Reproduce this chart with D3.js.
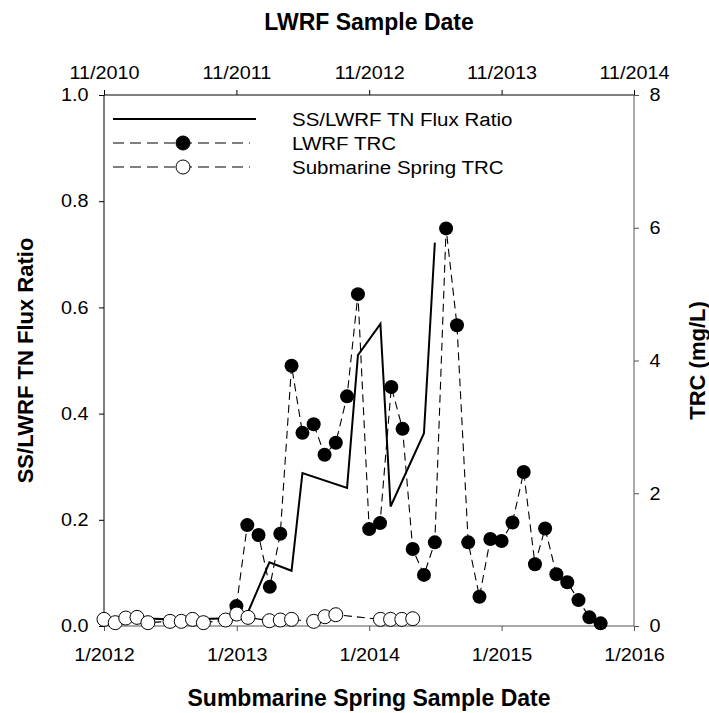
<!DOCTYPE html>
<html>
<head>
<meta charset="utf-8">
<script src="https://cdn.jsdelivr.net/npm/d3@7"></script>
<style>
  body { margin: 0; background: #fff; }
  svg { display: block; font-family: "Liberation Sans", Arial, sans-serif; }
</style>
</head>
<body>
<div id="chart"></div>
<script>
// submarine spring sample dates (bottom axis) and TRC (right axis)
const ssDates = ["2012-01","2012-02","2012-03","2012-04","2012-05","2012-07","2012-08","2012-09","2012-10","2012-12",
  "2013-01","2013-02","2013-04","2013-05","2013-06","2013-08","2013-09","2013-10",
  "2014-02","2014-03","2014-04","2014-05"];
const ssTRC = [0.10,0.05,0.12,0.13,0.05,0.07,0.07,0.10,0.05,0.09,
  0.18,0.13,0.08,0.09,0.10,0.07,0.14,0.17,
  0.10,0.10,0.10,0.11];

// LWRF sample dates (top axis) and TRC (right axis)
const lwrfDates = ["2011-11","2011-12","2012-01","2012-02","2012-03","2012-04","2012-05","2012-06","2012-07","2012-08",
  "2012-09","2012-10","2012-11","2012-12","2013-01","2013-02","2013-03","2013-04","2013-05","2013-06",
  "2013-07","2013-08","2013-09","2013-10","2013-11","2013-12","2014-01","2014-02","2014-03","2014-04",
  "2014-05","2014-06","2014-07","2014-08"];
const lwrfTRC = [0.30,1.52,1.37,0.59,1.39,3.92,2.91,3.04,2.58,2.76,
  3.46,5.00,1.46,1.55,3.60,2.97,1.16,0.77,1.26,5.99,
  4.53,1.26,0.44,1.31,1.28,1.56,2.32,0.93,1.47,0.78,
  0.66,0.39,0.13,0.04];

// SS/LWRF TN flux ratio (left axis), on submarine spring dates
const fluxDates = ["2012-02","2012-05","2012-08","2012-10","2013-01","2013-02","2013-04","2013-06","2013-07",
  "2013-11","2013-12","2014-02","2014-03","2014-06","2014-07"];
const fluxRatio = [0.012,0.014,0.012,0.013,0.015,0.026,0.12,0.104,0.288,
  0.26,0.51,0.569,0.225,0.363,0.722];

const bottomTicks = ["2012-01","2013-01","2014-01","2015-01","2016-01"];
const topTicks = ["2010-11","2011-11","2012-11","2013-11","2014-11"];
const leftTicks = [0, 0.2, 0.4, 0.6, 0.8, 1.0];
const rightTicks = [0, 2, 4, 6, 8];

const legendLabels = ["SS/LWRF TN Flux Ratio", "LWRF TRC", "Submarine Spring TRC"];

const W = 709, H = 713;
const margin = {top: 95, right: 75, bottom: 87, left: 104};
const width = W - margin.left - margin.right,
      height = H - margin.top - margin.bottom;

const parse = d3.timeParse("%Y-%m");
const fmt = d3.timeFormat("%-m/%Y");

const svg = d3.select("#chart").append("svg")
  .attr("width", W).attr("height", H);
const g = svg.append("g")
  .attr("transform", `translate(${margin.left},${margin.top})`);

const xBottom = d3.scaleTime()
  .domain([parse("2012-01"), parse("2016-01")])
  .range([0, width]);
const xTop = d3.scaleTime()
  .domain([parse("2010-11"), parse("2014-11")])
  .range([0, width]);
const yLeft = d3.scaleLinear().domain([0, 1]).range([height, 0]);
const yRight = d3.scaleLinear().domain([0, 8]).range([height, 0]);

const tickFont = "18px";
function styleTicks(sel, color) {
  sel.select(".domain").remove();
  sel.selectAll(".tick line").attr("stroke", color);
  sel.selectAll(".tick text")
    .attr("fill", "#000")
    .style("font-size", tickFont)
    .attr("transform", "scale(1.1,1)");
}

// axes
g.append("g")
  .attr("transform", `translate(0,${height})`)
  .call(d3.axisBottom(xBottom).tickValues(bottomTicks.map(parse)).tickFormat(fmt)
    .tickSize(5).tickPadding(17))
  .call(s => styleTicks(s, "#555"));

g.append("g")
  .call(d3.axisTop(xTop).tickValues(topTicks.map(parse)).tickFormat(fmt)
    .tickSize(5).tickPadding(11))
  .call(s => styleTicks(s, "#000"));

g.append("g")
  .call(d3.axisLeft(yLeft).tickValues(leftTicks).tickFormat(d3.format(".1f"))
    .tickSize(5).tickPadding(9))
  .call(s => styleTicks(s, "#000"));

g.append("g")
  .attr("transform", `translate(${width},0)`)
  .call(d3.axisRight(yRight).tickValues(rightTicks).tickFormat(d3.format("d"))
    .tickSize(5).tickPadding(9))
  .call(s => styleTicks(s, "#555"));

// frame lines
g.append("line").attr("x1", 0).attr("x2", width).attr("y1", 0).attr("y2", 0).attr("stroke", "#000");
g.append("line").attr("x1", 0).attr("x2", 0).attr("y1", 0).attr("y2", height).attr("stroke", "#000");
g.append("line").attr("x1", 0).attr("x2", width).attr("y1", height).attr("y2", height).attr("stroke", "#555");
g.append("line").attr("x1", width).attr("x2", width).attr("y1", 0).attr("y2", height).attr("stroke", "#555");

// data series
const fluxData = fluxDates.map((d, i) => ({date: parse(d), v: fluxRatio[i]}));
const lwrfData = lwrfDates.map((d, i) => ({date: parse(d), v: lwrfTRC[i]}));
const ssData = ssDates.map((d, i) => ({date: parse(d), v: ssTRC[i]}));

g.append("path")
  .datum(fluxData)
  .attr("fill", "none").attr("stroke", "#000").attr("stroke-width", 2)
  .attr("d", d3.line().x(d => xBottom(d.date)).y(d => yLeft(d.v)));

g.append("path")
  .datum(lwrfData)
  .attr("fill", "none").attr("stroke", "#000").attr("stroke-width", 1.1)
  .attr("stroke-dasharray", "8,5")
  .attr("d", d3.line().x(d => xTop(d.date)).y(d => yRight(d.v)));

g.append("path")
  .datum(ssData)
  .attr("fill", "none").attr("stroke", "#000").attr("stroke-width", 1.1)
  .attr("stroke-dasharray", "8,5")
  .attr("d", d3.line().x(d => xBottom(d.date)).y(d => yRight(d.v)));

g.append("g").selectAll("circle")
  .data(lwrfData)
  .join("circle")
  .attr("cx", d => xTop(d.date))
  .attr("cy", d => yRight(d.v))
  .attr("r", 7)
  .attr("fill", "#000");

g.append("g").selectAll("circle")
  .data(ssData)
  .join("circle")
  .attr("cx", d => xBottom(d.date))
  .attr("cy", d => yRight(d.v))
  .attr("r", 7)
  .attr("fill", "#fff")
  .attr("stroke", "#000")
  .attr("stroke-width", 1);

// legend
const legend = svg.append("g");
const legendY = [119, 143, 167];
legend.append("line")
  .attr("x1", 113).attr("x2", 256).attr("y1", legendY[0]).attr("y2", legendY[0])
  .attr("stroke", "#000").attr("stroke-width", 2);
[1, 2].forEach(i => {
  legend.append("line")
    .attr("x1", 113).attr("x2", 250).attr("y1", legendY[i]).attr("y2", legendY[i])
    .attr("stroke", "#000").attr("stroke-width", 1.1)
    .attr("stroke-dasharray", "11,6");
  legend.append("circle")
    .attr("cx", 183).attr("cy", legendY[i]).attr("r", 7)
    .attr("fill", i == 1 ? "#000" : "#fff")
    .attr("stroke", "#000");
});
legend.selectAll("text")
  .data(legendLabels)
  .join("text")
  .attr("transform", (d, i) => `translate(292,${legendY[i] + 7}) scale(1.08,1)`)
  .style("font-size", "19px")
  .text(d => d);

// titles
svg.append("text")
  .attr("x", margin.left + width / 2).attr("y", 30)
  .attr("text-anchor", "middle")
  .style("font-size", "23px").style("font-weight", "bold")
  .text("LWRF Sample Date");

svg.append("text")
  .attr("x", margin.left + width / 2).attr("y", 706)
  .attr("text-anchor", "middle")
  .style("font-size", "23px").style("font-weight", "bold")
  .text("Sumbmarine Spring Sample Date");

svg.append("text")
  .attr("transform", `translate(33,${margin.top + height / 2}) rotate(-90)`)
  .attr("text-anchor", "middle")
  .style("font-size", "22px").style("font-weight", "bold")
  .text("SS/LWRF TN Flux Ratio");

svg.append("text")
  .attr("transform", `translate(705,${margin.top + height / 2}) rotate(-90)`)
  .attr("text-anchor", "middle")
  .style("font-size", "22px").style("font-weight", "bold")
  .text("TRC (mg/L)");
</script>
</body>
</html>
